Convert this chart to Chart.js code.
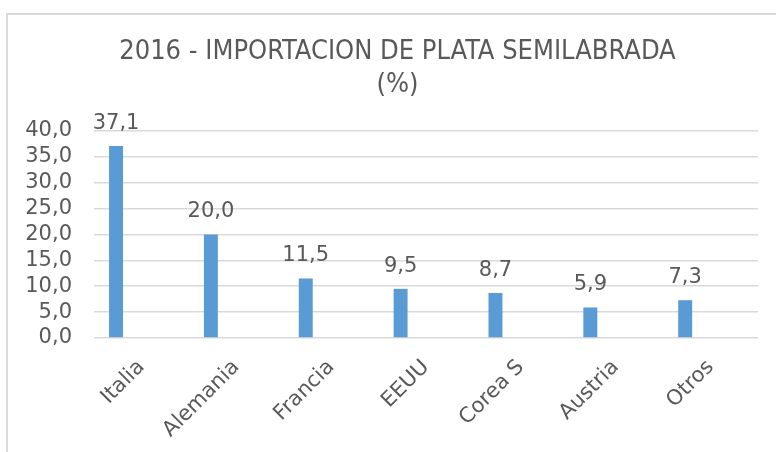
<!DOCTYPE html>
<html>
<head>
<meta charset="utf-8">
<script src="https://cdn.jsdelivr.net/npm/chart.js@4"></script>
<style>
  body { margin: 0; background: #fff; overflow: hidden; }
  #wrap { position: relative; width: 776px; height: 452px; overflow: hidden; }
  #marco {
    position: absolute; left: 6px; top: 13px; width: 800px; height: 460px;
    border-left: 2px solid #d9d9d9; border-top: 2px solid #d9d9d9;
  }
  #grafico { position: absolute; left: 0; top: 0; }
</style>
</head>
<body>
<div id="wrap">
  <div id="marco"></div>
  <canvas id="grafico" width="776" height="452"></canvas>
</div>
<script>
// datos del gráfico
const paises = ['Italia', 'Alemania', 'Francia', 'EEUU', 'Corea S', 'Austria', 'Otros'];
const porcentajes = [37.1, 20.0, 11.5, 9.5, 8.7, 5.9, 7.3];
const titulo = ['2016 - IMPORTACION DE PLATA SEMILABRADA', '(%)'];
const ejeMin = 0;
const ejeMax = 40;
const ejePaso = 5;

const gris = '#595959';
const azul = '#5b9bd5';

function coma(v) {
    return Number(v).toFixed(1).replace('.', ',');
}

// etiquetas de valor encima de cada barra
const etiquetas = {
    id: 'etiquetas',
    afterDatasetsDraw(chart) {
        const ctx = chart.ctx;
        const meta = chart.getDatasetMeta(0);
        ctx.save();
        ctx.font = '21px "DejaVu Sans"';
        ctx.fillStyle = gris;
        ctx.textAlign = 'center';
        ctx.textBaseline = 'alphabetic';
        meta.data.forEach(function (barra, i) {
            ctx.fillText(coma(porcentajes[i]), barra.x, barra.y - 17);
        });
        ctx.restore();
    }
};

// el relleno izquierdo solo sirve para centrar el título; el eje y puede usar ese hueco
const ejeAncho = {
    id: 'ejeAncho',
    afterLayout(chart) {
        chart.scales.y.left = 0;
    }
};

new Chart(document.getElementById('grafico').getContext('2d'), {
    type: 'bar',
    data: {
        labels: paises,
        datasets: [
            { data: porcentajes, backgroundColor: azul, categoryPercentage: 0.803, barPercentage: 0.55 },
            // series vacías: en el original la barra queda a la izquierda de la categoría
            { data: [], categoryPercentage: 0.803, barPercentage: 0.55 },
            { data: [], categoryPercentage: 0.803, barPercentage: 0.55 }
        ]
    },
    options: {
        responsive: false,
        animation: false,
        layout: { padding: { left: 37, right: 18, top: 0, bottom: 0 } },
        scales: {
            x: {
                grid: { display: false },
                border: { display: false },
                ticks: {
                    color: gris,
                    font: { family: 'DejaVu Sans', size: 21 },
                    minRotation: 45,
                    maxRotation: 45,
                    autoSkip: false,
                    padding: 9
                },
                afterFit: function (scale) { scale.height = 114; }
            },
            y: {
                min: ejeMin,
                max: ejeMax,
                border: { display: false },
                grid: { color: '#d9d9d9', lineWidth: 1.5, drawTicks: false },
                ticks: {
                    stepSize: ejePaso,
                    autoSkip: false,
                    color: gris,
                    padding: 22,
                    font: { family: 'DejaVu Sans', size: 21 },
                    callback: function (v) { return coma(v); }
                },
                afterFit: function (scale) { scale.width = 57; }
            }
        },
        plugins: {
            legend: { display: false },
            tooltip: { enabled: false },
            title: {
                display: true,
                text: titulo,
                color: gris,
                font: { family: 'DejaVu Sans Condensed', size: 27, weight: 'normal', lineHeight: 1.24 },
                padding: { top: 35, bottom: 29 }
            }
        }
    },
    plugins: [etiquetas, ejeAncho]
});
</script>
</body>
</html>
